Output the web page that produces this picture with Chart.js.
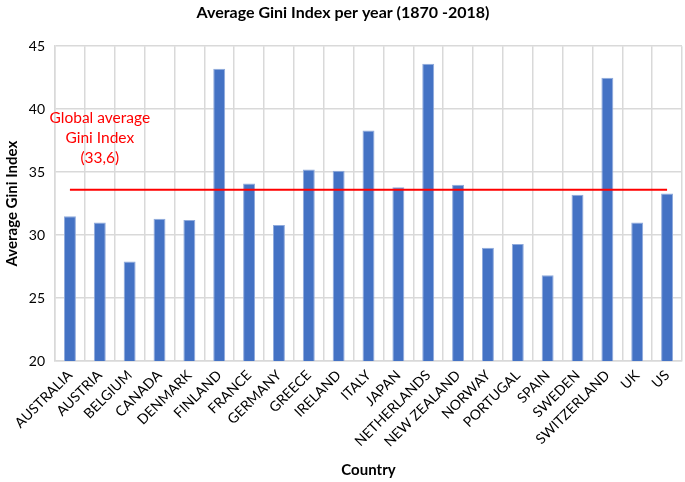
<!DOCTYPE html>
<html>
<head>
<meta charset="utf-8">
<script src="https://cdn.jsdelivr.net/npm/chart.js@4"></script>
<style>
  html, body { margin: 0; padding: 0; background: #fff; }
  #wrap { width: 685px; height: 482px; }
</style>
</head>
<body>
<div id="wrap"><canvas id="giniChart"></canvas></div>
<script>
// Chart data
const countries = ['AUSTRALIA', 'AUSTRIA', 'BELGIUM', 'CANADA', 'DENMARK', 'FINLAND', 'FRANCE',
    'GERMANY', 'GREECE', 'IRELAND', 'ITALY', 'JAPAN', 'NETHERLANDS', 'NEW ZEALAND', 'NORWAY',
    'PORTUGAL', 'SPAIN', 'SWEDEN', 'SWITZERLAND', 'UK', 'US'];
const giniValues = [31.5, 31.0, 27.9, 31.3, 31.2, 43.2, 34.1, 30.8, 35.2, 35.1, 38.3,
    33.8, 43.6, 34.0, 29.0, 29.3, 26.8, 33.2, 42.5, 31.0, 33.3];
const globalAverage = 33.6;
const averageLabel = ['Global average', 'Gini Index', '(33,6)'];
const yTicks = [20, 25, 30, 35, 40, 45];

const fontFamily = 'Lato, "Open Sans", sans-serif';

// Red text next to the average line
const averageLabelPlugin = {
    id: 'averageLabel',
    afterDatasetsDraw(chart) {
        const { ctx, scales } = chart;
        const x = scales.x.getPixelForValue(1);
        const y0 = scales.y.getPixelForValue(39.3);
        ctx.save();
        ctx.fillStyle = '#ff0000';
        ctx.font = '15.5px ' + fontFamily;
        ctx.textAlign = 'center';
        ctx.textBaseline = 'middle';
        averageLabel.forEach((line, i) => {
            ctx.fillText(line, x, y0 + i * 20);
        });
        ctx.restore();
    }
};

function initializeChart() {
    const ctx = document.getElementById('giniChart').getContext('2d');
    new Chart(ctx, {
        type: 'bar',
        data: {
            labels: countries,
            datasets: [{
                type: 'line',
                label: 'Global average',
                data: countries.map(() => globalAverage),
                borderColor: '#ff0000',
                borderWidth: 2.2,
                pointRadius: 0,
                fill: false,
                order: 0
            }, {
                label: 'Average Gini Index',
                data: giniValues,
                backgroundColor: '#4472c4',
                borderColor: '#8faadc',
                borderWidth: 1,
                barPercentage: 0.8,
                categoryPercentage: 0.5,
                order: 1
            }]
        },
        options: {
            responsive: true,
            maintainAspectRatio: false,
            animation: false,
            layout: { padding: { left: 3, right: 2, top: 3, bottom: 3 } },
            plugins: {
                legend: { display: false },
                tooltip: { enabled: false },
                title: {
                    display: true,
                    text: 'Average Gini Index per year (1870 -2018)',
                    color: '#000',
                    font: { family: fontFamily, size: 16, weight: 'bold' },
                    padding: { top: 0, bottom: 24 }
                }
            },
            scales: {
                x: {
                    offset: true,
                    grid: { color: '#d9d9d9', lineWidth: 1.5, offset: true, drawTicks: false },
                    border: { color: '#d9d9d9', width: 1.5 },
                    ticks: {
                        autoSkip: false,
                        maxRotation: 45,
                        minRotation: 45,
                        padding: 6,
                        color: '#000',
                        font: { family: fontFamily, size: 14 }
                    },
                    title: {
                        display: true,
                        text: 'Country',
                        color: '#000',
                        font: { family: fontFamily, size: 15, weight: 'bold' },
                        padding: { top: 4, bottom: 0 }
                    },
                    afterFit(scale) { scale.height = 118; }
                },
                y: {
                    min: 20,
                    max: 45,
                    afterBuildTicks(scale) { scale.ticks = yTicks.map(v => ({ value: v })); },
                    grid: { color: '#d9d9d9', lineWidth: 1.5, drawTicks: false },
                    border: { color: '#d9d9d9', width: 1.5 },
                    ticks: {
                        padding: 10,
                        color: '#000',
                        font: { family: fontFamily, size: 14 }
                    },
                    title: {
                        display: true,
                        text: 'Average Gini Index',
                        color: '#000',
                        font: { family: fontFamily, size: 15, weight: 'bold' },
                        padding: { top: 0, bottom: 4 }
                    },
                    afterFit(scale) { scale.width = 52; }
                }
            }
        },
        plugins: [averageLabelPlugin]
    });
}

document.addEventListener('DOMContentLoaded', () => {
    initializeChart();
});
</script>
</body>
</html>
